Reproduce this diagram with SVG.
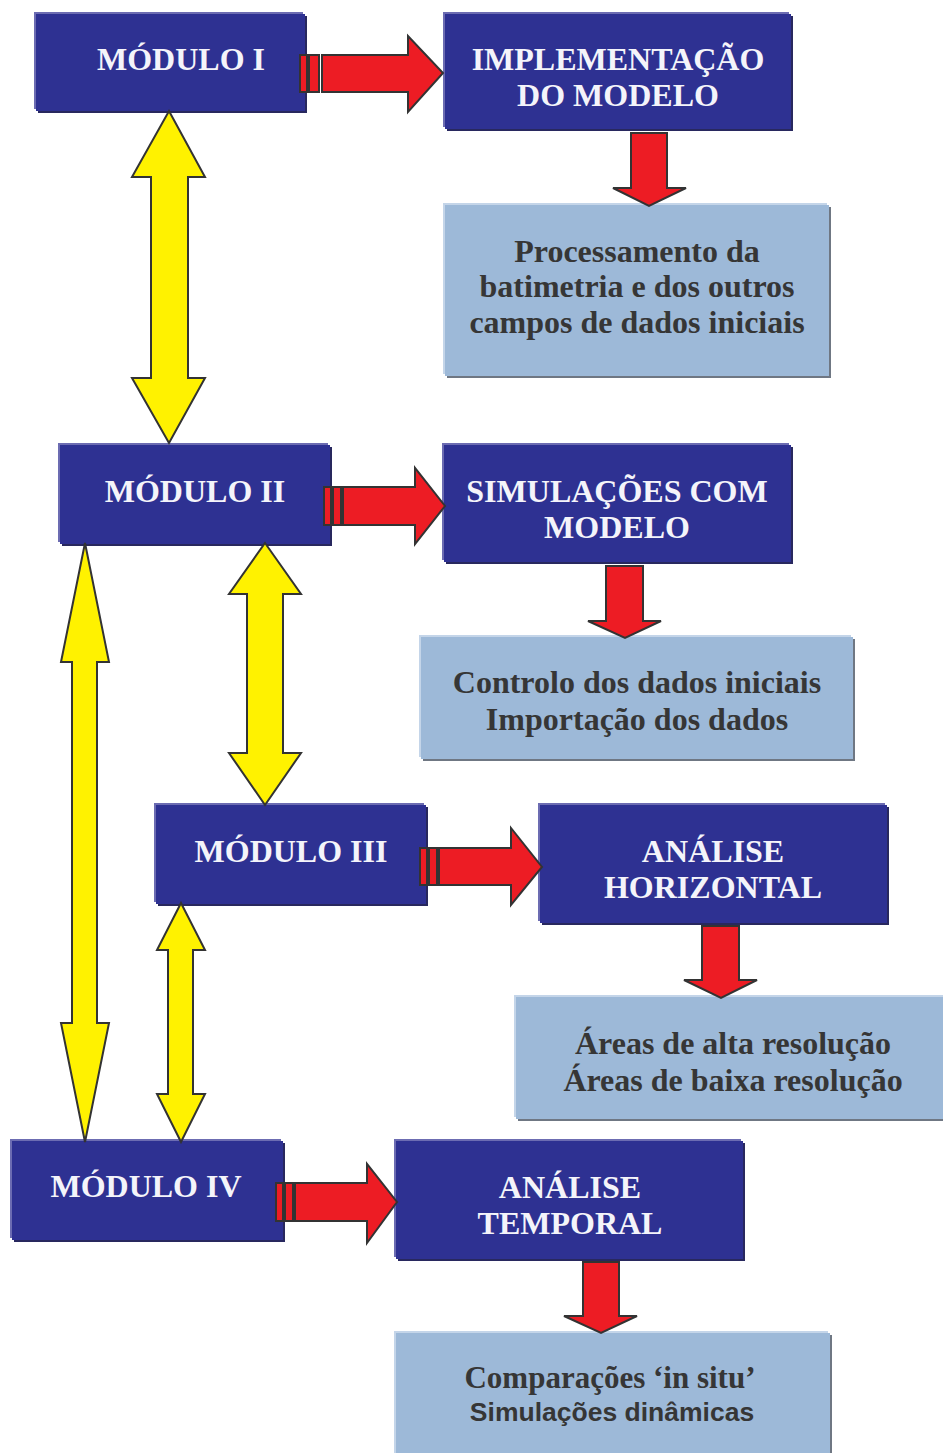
<svg xmlns="http://www.w3.org/2000/svg" width="943" height="1453" viewBox="0 0 943 1453">
<style>
.lt{fill:#6C6CB2}.mn{fill:#2E3192}.sh{fill:#28285E}
.llt{fill:#C4D5E9}.lmn{fill:#9DB9D8}.lsh{fill:#6F7783}
.tw{font-family:"Liberation Serif","Times New Roman",serif;font-weight:bold;font-size:32px;fill:#F4F4FA;text-anchor:middle}
.td{font-family:"Liberation Serif","Times New Roman",serif;font-weight:bold;font-size:32px;fill:#363636;text-anchor:middle}
.ts{font-family:"Liberation Sans",Arial,sans-serif;font-weight:bold;font-size:26.5px;fill:#363636;text-anchor:middle}
.r{fill:#ED1C24;stroke:#333;stroke-width:2;stroke-linejoin:miter}
.y{fill:#FFF200;stroke:#333;stroke-width:2;stroke-linejoin:miter}
</style>
<rect width="943" height="1453" fill="#fff"/>

<g id="modulo1">
<rect class="lt" x="34" y="12" width="269" height="97"/><rect class="sh" x="38" y="16" width="269" height="97"/><rect class="mn" x="36" y="14" width="269" height="97"/>
<text class="tw" x="181" y="70">MÓDULO I</text>
</g>
<g id="implementacao">
<rect class="lt" x="443" y="12" width="346" height="115"/><rect class="sh" x="447" y="16" width="346" height="115"/><rect class="mn" x="445" y="14" width="346" height="115"/>
<text class="tw" x="618" y="70">IMPLEMENTAÇÃO</text>
<text class="tw" x="618" y="106">DO MODELO</text>
</g>
<g id="processamento">
<rect class="llt" x="443" y="203" width="384" height="171"/><rect class="lsh" x="447" y="207" width="384" height="171"/><rect class="lmn" x="445" y="205" width="384" height="171"/>
<text class="td" x="637" y="262">Processamento da</text>
<text class="td" x="637" y="297">batimetria e dos outros</text>
<text class="td" x="637" y="333">campos de dados iniciais</text>
</g>
<g id="modulo2">
<rect class="lt" x="58" y="443" width="270" height="99"/><rect class="sh" x="62" y="447" width="270" height="99"/><rect class="mn" x="60" y="445" width="270" height="99"/>
<text class="tw" x="195" y="502">MÓDULO II</text>
</g>
<g id="simulacoes">
<rect class="lt" x="442" y="443" width="347" height="117"/><rect class="sh" x="446" y="447" width="347" height="117"/><rect class="mn" x="444" y="445" width="347" height="117"/>
<text class="tw" x="617" y="502">SIMULAÇÕES COM</text>
<text class="tw" x="617" y="538">MODELO</text>
</g>
<g id="controlo">
<rect class="llt" x="419" y="635" width="432" height="122"/><rect class="lsh" x="423" y="639" width="432" height="122"/><rect class="lmn" x="421" y="637" width="432" height="122"/>
<text class="td" x="637" y="693">Controlo dos dados iniciais</text>
<text class="td" x="637" y="730">Importação dos dados</text>
</g>
<g id="modulo3">
<rect class="lt" x="154" y="803" width="270" height="99"/><rect class="sh" x="158" y="807" width="270" height="99"/><rect class="mn" x="156" y="805" width="270" height="99"/>
<text class="tw" x="291" y="862">MÓDULO III</text>
</g>
<g id="analise-horizontal">
<rect class="lt" x="538" y="803" width="347" height="118"/><rect class="sh" x="542" y="807" width="347" height="118"/><rect class="mn" x="540" y="805" width="347" height="118"/>
<text class="tw" x="713" y="862">ANÁLISE</text>
<text class="tw" x="713" y="898">HORIZONTAL</text>
</g>
<g id="areas">
<rect class="llt" x="514" y="995" width="430" height="122"/><rect class="lsh" x="518" y="999" width="430" height="122"/><rect class="lmn" x="516" y="997" width="430" height="122"/>
<text class="td" x="733" y="1054">Áreas de alta resolução</text>
<text class="td" x="733" y="1091">Áreas de baixa resolução</text>
</g>
<g id="modulo4">
<rect class="lt" x="10" y="1139" width="271" height="99"/><rect class="sh" x="14" y="1143" width="271" height="99"/><rect class="mn" x="12" y="1141" width="271" height="99"/>
<text class="tw" x="146" y="1197">MÓDULO IV</text>
</g>
<g id="analise-temporal">
<rect class="lt" x="394" y="1139" width="347" height="118"/><rect class="sh" x="398" y="1143" width="347" height="118"/><rect class="mn" x="396" y="1141" width="347" height="118"/>
<text class="tw" x="570" y="1198">ANÁLISE</text>
<text class="tw" x="570" y="1234">TEMPORAL</text>
</g>
<g id="comparacoes">
<rect class="llt" x="394" y="1331" width="434" height="130"/><rect class="lsh" x="398" y="1335" width="434" height="130"/><rect class="lmn" x="396" y="1333" width="434" height="130"/>
<text class="td" x="610" y="1388" style="font-size:31px">Comparações ‘in situ’</text>
<text class="ts" x="612" y="1421">Simulações dinâmicas</text>
</g>

<g id="connectors">
<rect class="r" x="300" y="55" width="7" height="37"/><rect class="r" x="309" y="55" width="10" height="37"/>
<polygon class="r" points="322,55 408,55 408,36 443,73 408,112 408,92 322,92"/>
<rect class="r" x="324" y="487" width="7" height="38"/><rect class="r" x="333" y="487" width="8" height="38"/>
<polygon class="r" points="343,487 415,487 415,468 445,506 415,544 415,525 343,525"/>
<rect class="r" x="420" y="848" width="7" height="37"/><rect class="r" x="429" y="848" width="8" height="37"/>
<polygon class="r" points="439,848 511,848 511,828 542,867 511,905 511,885 439,885"/>
<rect class="r" x="276" y="1183" width="7" height="38"/><rect class="r" x="285" y="1183" width="8" height="38"/>
<polygon class="r" points="295,1183 367,1183 367,1164 397,1202 367,1243 367,1221 295,1221"/>
<polygon class="r" points="631,133 667,133 667,188 686,188 649,206 613,188 631,188"/>
<polygon class="r" points="606,566 643,566 643,621 661,621 625,638 588,621 606,621"/>
<polygon class="r" points="702,926 739,926 739,980 757,980 721,998 684,980 702,980"/>
<polygon class="r" points="583,1262 619,1262 619,1316 637,1316 601,1333 564,1316 583,1316"/>
<polygon class="y" points="169,111 205,177 188,177 188,378 205,378 169,443 132,378 151,378 151,177 132,177"/>
<polygon class="y" points="265,543 301,594 283,594 283,753 301,753 265,805 229,753 247,753 247,594 229,594"/>
<polygon class="y" points="85,543 109,662 97,662 97,1023 109,1023 85,1142 61,1023 72,1023 72,662 61,662"/>
<polygon class="y" points="181,903 205,950 193,950 193,1094 205,1094 181,1142 157,1094 168,1094 168,950 157,950"/>
</g>
</svg>
